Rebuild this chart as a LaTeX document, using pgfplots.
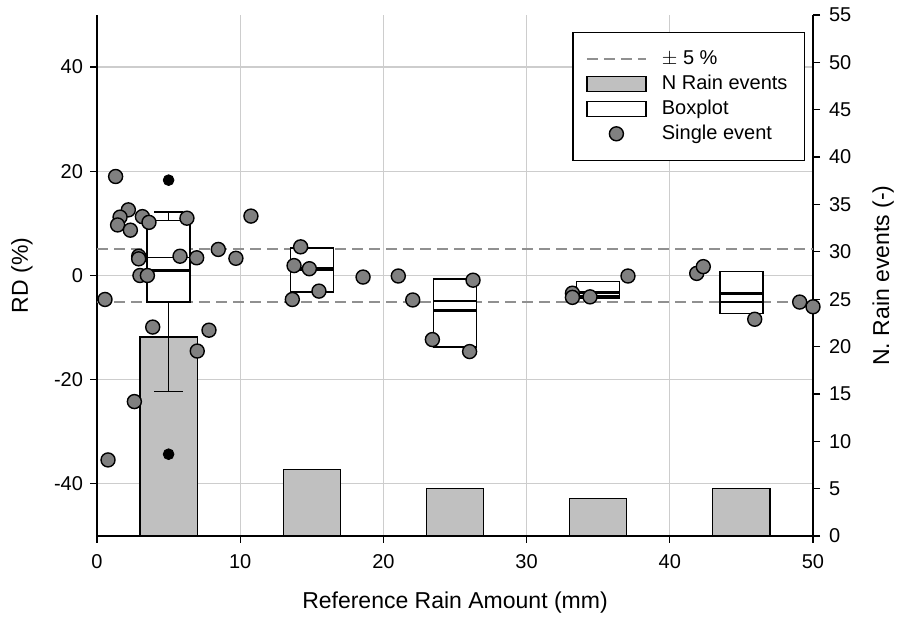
\documentclass[border=0pt]{standalone}
\usepackage{fontspec}
\setmainfont{Liberation Sans}
\usepackage{pgfplots}
\pgfplotsset{compat=1.18}
\definecolor{barfill}{HTML}{C0C0C0}
\definecolor{ptfill}{HTML}{808080}
\definecolor{dashcol}{HTML}{909090}
\definecolor{gridcol}{HTML}{CDCDCD}
\newcommand{\tickfont}{\fontsize{10}{12}\selectfont}
\newcommand{\labfont}{\fontsize{11.5}{13}\selectfont}
\pgfplotsset{
  base/.style={
    at={(48.5pt,45pt)}, anchor=south west,
    scale only axis, width=358pt, height=260.5pt,
    xmin=0, xmax=50,
    tick align=outside,
    major tick length=3.5pt,
    tick style={black, line width=0.6pt},
    axis line style={black, line width=0.7pt},
    tick label style={font=\tickfont},
    label style={font=\labfont},
    /pgf/number format/assume math mode=true,
  },
}
\begin{document}
\begin{tikzpicture}
\useasboundingbox (0,0) rectangle (452pt,313pt);

% left axis, x axis and grid
\begin{axis}[base,
  ymin=-50, ymax=50,
  axis x line*=bottom, axis y line*=left,
  xtick={0,10,20,30,40,50},
  ytick={-40,-20,0,20,40},
  grid=major,
  grid style={gridcol, line width=0.6pt},
  xlabel={Reference Rain Amount (mm)},
  ylabel={RD (\%)},
  xlabel style={at={(axis description cs:0.5,-0.128)}, anchor=center},
  ylabel style={at={(axis description cs:-0.105,0.5)}, anchor=center},
  xticklabel style={yshift=-2pt},
]
\addplot[draw=none] coordinates {(0,0)};
\end{axis}

% right axis with the number of rain events
\begin{axis}[base,
  ymin=0, ymax=55,
  axis y line*=right, axis x line=none,
  ytick={0,5,...,55},
  ylabel={N. Rain events (-)},
  ylabel style={at={(axis description cs:1.098,0.5)}, anchor=center},
  yticklabel style={xshift=1pt},
]
\addplot[ybar, bar width=4, fill=barfill, draw=black, line width=0.6pt] coordinates {
  (5,21) (15,7) (25,5) (35,4) (45,5)
};
\end{axis}

% RD data: limits, boxplots, single events
\begin{axis}[base,
  ymin=-50, ymax=50,
  axis lines=none, clip=false,
  legend style={at={(0.989,0.967)}, anchor=north east,
    draw=black, line width=0.6pt, fill=white,
    font=\fontsize{10}{11}\selectfont,
    inner xsep=6.5pt, inner ysep=7.1pt,
    row sep=-0.3pt,
    /tikz/every odd column/.append style={column sep=5.5pt}},
  legend cell align=left,
]
\addlegendimage{legend image code/.code={
  \draw[dashcol, line width=1pt, dash pattern=on 5.5pt off 3pt] (0pt,0pt) -- (29.5pt,0pt);}}
\addlegendentry{$\pm$ 5 \%}
\addlegendimage{legend image code/.code={
  \draw[fill=barfill, line width=0.6pt] (0pt,-3.7pt) rectangle (29.5pt,3.7pt);}}
\addlegendentry{N Rain events}
\addlegendimage{legend image code/.code={
  \draw[fill=white, line width=0.6pt] (0pt,-3.7pt) rectangle (29.5pt,3.7pt);}}
\addlegendentry{Boxplot}
\addlegendimage{legend image code/.code={
  \draw[fill=ptfill, line width=0.7pt] (14.75pt,0pt) circle (3.5pt);}}
\addlegendentry{Single event}

% +/- 5 % limits
\addplot[dashcol, line width=1pt, dash pattern=on 5.5pt off 3pt, forget plot] coordinates {(0,5) (50,5)};
\addplot[dashcol, line width=1pt, dash pattern=on 5.5pt off 3pt, forget plot] coordinates {(0,-5) (50,-5)};

% boxplot 1 with whiskers
\addplot[black, line width=0.7pt, forget plot] coordinates {(5,10.5) (5,12.2)};
\addplot[black, line width=0.7pt, forget plot] coordinates {(4,12.2) (6,12.2)};
\addplot[black, line width=0.7pt, forget plot] coordinates {(5,-5.1) (5,-22.3)};
\addplot[black, line width=0.7pt, forget plot] coordinates {(4,-22.3) (6,-22.3)};
\addplot[black, fill=white, line width=0.7pt, forget plot] coordinates {(3.5,-5.1) (6.5,-5.1) (6.5,10.5) (3.5,10.5)} -- cycle;
\addplot[black, line width=0.7pt, forget plot] coordinates {(3.5,3.5) (6.5,3.5)};
\addplot[black, line width=1.5pt, forget plot] coordinates {(3.5,0.9) (6.5,0.9)};
% boxplot 2
\addplot[black, fill=white, line width=0.7pt, forget plot] coordinates {(13.5,-3.2) (16.5,-3.2) (16.5,5.3) (13.5,5.3)} -- cycle;
\addplot[black, line width=0.7pt, forget plot] coordinates {(13.5,1.5) (16.5,1.5)};
\addplot[black, line width=1.5pt, forget plot] coordinates {(13.5,1.2) (16.5,1.2)};
% boxplot 3
\addplot[black, fill=white, line width=0.7pt, forget plot] coordinates {(23.5,-13.7) (26.5,-13.7) (26.5,-0.7) (23.5,-0.7)} -- cycle;
\addplot[black, line width=0.7pt, forget plot] coordinates {(23.5,-4.9) (26.5,-4.9)};
\addplot[black, line width=1.5pt, forget plot] coordinates {(23.5,-6.7) (26.5,-6.7)};
% boxplot 4
\addplot[black, fill=white, line width=0.7pt, forget plot] coordinates {(33.5,-4.3) (36.5,-4.3) (36.5,-1.2) (33.5,-1.2)} -- cycle;
\addplot[black, line width=0.7pt, forget plot] coordinates {(33.5,-3.9) (36.5,-3.9)};
\addplot[black, line width=1.5pt, forget plot] coordinates {(33.5,-3.3) (36.5,-3.3)};
% boxplot 5
\addplot[black, fill=white, line width=0.7pt, forget plot] coordinates {(43.5,-7.3) (46.5,-7.3) (46.5,0.8) (43.5,0.8)} -- cycle;
\addplot[black, line width=0.7pt, forget plot] coordinates {(43.5,-5.1) (46.5,-5.1)};
\addplot[black, line width=1.5pt, forget plot] coordinates {(43.5,-3.5) (46.5,-3.5)};

% outliers of boxplot 1
\addplot[only marks, mark=*, mark size=2.7pt, mark options={fill=black, draw=black}, forget plot] coordinates {
  (5,18.3) (5,-34.3)
};

% single events
\addplot[only marks, mark=*, mark size=3.5pt, mark options={fill=ptfill, draw=black, line width=0.7pt}, forget plot] coordinates {
  (0.56,-4.6) (1.30,19.0) (2.19,12.6) (1.61,11.2) (1.44,9.7) (2.33,8.7)
  (3.17,11.3) (3.63,10.2) (6.28,11.0) (2.91,3.7) (2.91,3.2) (5.80,3.7)
  (6.96,3.4) (3.00,0.0) (3.52,0.0) (3.89,-9.9) (7.82,-10.5) (7.00,-14.5)
  (8.47,5.0) (9.70,3.3) (10.75,11.4) (0.77,-35.4) (2.61,-24.2)
  (14.22,5.5) (13.76,1.9) (14.83,1.3) (15.50,-3.0) (13.64,-4.6) (18.58,-0.3)
  (21.04,-0.1) (22.05,-4.7) (26.26,-0.9) (23.42,-12.3) (26.02,-14.6)
  (33.20,-3.4) (33.20,-4.2) (34.43,-4.1) (37.08,-0.1)
  (41.88,0.4) (42.34,1.7) (45.93,-8.4) (49.07,-5.1) (50.00,-6.0)
};
\end{axis}
\end{tikzpicture}
\end{document}
